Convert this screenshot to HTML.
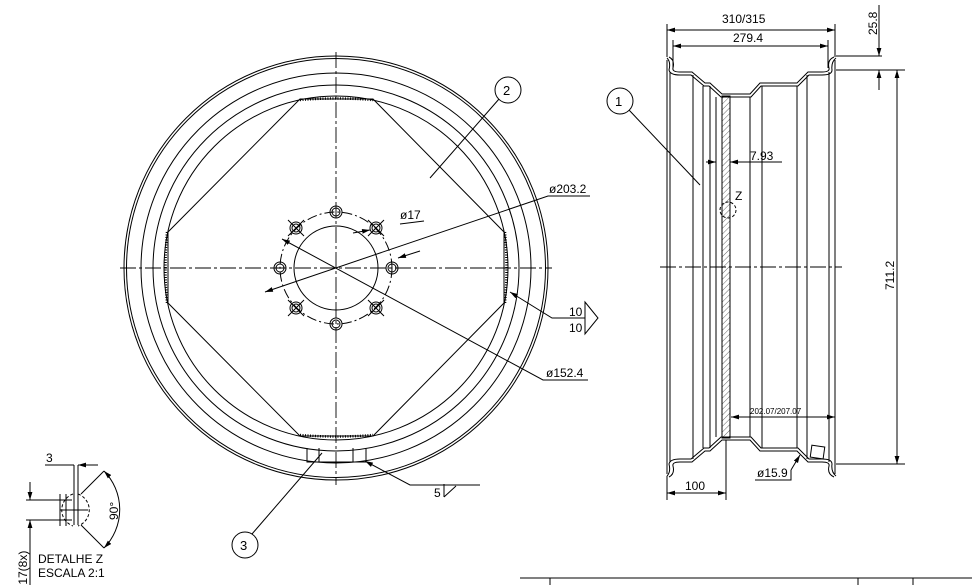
<!DOCTYPE html>
<html><head><meta charset="utf-8"><style>
html,body{margin:0;padding:0;background:#fff;}
svg{display:block;font-family:"Liberation Sans",sans-serif;}
text{fill:#000;}
</style></head><body>
<svg width="972" height="585" viewBox="0 0 972 585" xmlns="http://www.w3.org/2000/svg">
<defs>
<marker id="a" viewBox="0 0 10 6" refX="10" refY="3" markerWidth="8" markerHeight="5" orient="auto-start-reverse"><path d="M0,0 L10,3 L0,6z" fill="#000"/></marker>
<pattern id="h" width="4" height="4" patternUnits="userSpaceOnUse" patternTransform="rotate(45)"><line x1="0" y1="0" x2="0" y2="4" stroke="#000" stroke-width="0.6"/></pattern>
</defs>
<g fill="none" stroke="#000" stroke-width="1">
<circle cx="336" cy="268" r="212"/>
<circle cx="336" cy="268" r="209.5"/>
<circle cx="336" cy="268" r="195"/>
<circle cx="336" cy="268" r="183"/>
<circle cx="336" cy="268" r="172"/>
<path d="M300,99 L373,99 L504,232 L504,303 L373,436 L300,436 L168,303 L168,232 Z"/>
<path d="M300,100 Q336,97 373,100 M505,232 Q508,268 505,303 M300,435 Q336,438 373,435 M167,232 Q164,268 167,303" stroke-dasharray="1 1.5" stroke-width="2.5"/>
<circle cx="336" cy="268" r="42"/>
<circle cx="336" cy="268" r="56" stroke-dasharray="10 3 2 3"/>
<g>
<circle cx="336" cy="212" r="6"/><circle cx="336" cy="212" r="4"/>
<circle cx="336" cy="324" r="6"/><circle cx="336" cy="324" r="4"/>
<circle cx="280" cy="268" r="6"/><circle cx="280" cy="268" r="4"/>
<circle cx="392" cy="268" r="6"/><circle cx="392" cy="268" r="4"/>
<circle cx="296" cy="228" r="6"/><circle cx="296" cy="228" r="4"/>
<circle cx="376" cy="228" r="6"/><circle cx="376" cy="228" r="4"/>
<circle cx="296" cy="308" r="6"/><circle cx="296" cy="308" r="4"/>
<circle cx="376" cy="308" r="6"/><circle cx="376" cy="308" r="4"/>
<path d="M288,220 L304,236 M304,220 L288,236 M368,220 L384,236 M384,220 L368,236 M288,300 L304,316 M304,300 L288,316 M368,300 L384,316 M384,300 L368,316"/>
</g>
<path d="M120,268 L552,268 M336,52 L336,485" stroke-dasharray="16 3 3 3" stroke-width="0.9"/>
<path d="M307,448 L307,462 L366,462 L366,448 M319,448 L319,462 M353,448 L353,462"/>
<circle cx="508" cy="90" r="13"/>
<line x1="499" y1="99" x2="430" y2="178"/>
<circle cx="620" cy="101" r="13"/>
<line x1="629" y1="110" x2="700" y2="185"/>
<circle cx="245" cy="545" r="13"/>
<line x1="252" y1="534" x2="322" y2="453"/>
<path d="M265,292 L548,196 L590,196" marker-start="url(#a)"/>
<line x1="424" y1="221" x2="400" y2="224"/>
<path d="M353,233 L370,230" marker-end="url(#a)"/>
<line x1="420" y1="251" x2="398" y2="258" marker-end="url(#a)"/>
<path d="M282,239 L543,380 L588,380" marker-start="url(#a)"/>
<path d="M510,292 L552,318 L585,318" marker-start="url(#a)"/>
<path d="M585,302 L598,318 L585,334 Z" />
<path d="M365,461 L410,485 L480,485" marker-start="url(#a)"/>
<path d="M444,497 L444,484 M444,497 L456,486"/>
<path d="M669,57 Q675,60 673,68 Q672,72 680,72 L692,72 L705,83 L710,83 L722,94 L750,94 L760,83 L797,83 L808,72 L822,72 Q830,72 829,68 Q827,60 834,57"/>
<path d="M667,58 Q671,62 669,70 Q670,75 680,75 L691,75 L704,86 L709,86 L721,97 L751,97 L761,86 L798,86 L809,75 L822,75 Q832,75 832,70 Q831,62 836,58"/>
<path d="M669,477 Q675,474 673,466 Q672,462 680,462 L692,462 L705,451 L710,451 L722,440 L750,440 L760,451 L797,451 L808,462 L822,462 Q830,462 829,466 Q827,474 834,477"/>
<path d="M667,476 Q671,472 669,464 Q670,459 680,459 L691,459 L704,448 L709,448 L721,437 L751,437 L761,448 L798,448 L809,459 L822,459 Q832,459 832,464 Q831,472 836,476"/>
<g>
<line x1="667" y1="60" x2="667" y2="474"/><line x1="670" y1="72" x2="670" y2="462"/>
<line x1="693" y1="75" x2="693" y2="459"/><line x1="703" y1="86" x2="703" y2="448"/>
<line x1="710" y1="86" x2="710" y2="448"/><line x1="716" y1="97" x2="716" y2="437"/>
<line x1="750" y1="97" x2="750" y2="437"/><line x1="762" y1="86" x2="762" y2="448"/>
<line x1="797" y1="86" x2="797" y2="448"/><line x1="807" y1="75" x2="807" y2="459"/>
<line x1="829" y1="72" x2="829" y2="462"/><line x1="835" y1="60" x2="835" y2="474"/>
</g>
<rect x="722" y="96" width="8" height="342" fill="url(#h)"/>
<rect x="722" y="96" width="8" height="342"/>
<circle cx="728" cy="210" r="8" stroke-dasharray="3 2"/>
<line x1="660" y1="267" x2="842" y2="267" stroke-dasharray="16 3 3 3" stroke-width="0.9"/>
<rect x="811" y="446" width="13" height="12" transform="rotate(8 817 452)"/>
<path d="M791,470 L800,455" marker-end="url(#a)"/>
<path d="M755,480 L791,480 L791,470"/>
<line x1="667" y1="57" x2="667" y2="24"/><line x1="835" y1="57" x2="835" y2="24"/>
<line x1="667" y1="30" x2="835" y2="30" marker-start="url(#a)" marker-end="url(#a)"/>
<line x1="673" y1="68" x2="673" y2="40"/><line x1="828" y1="68" x2="828" y2="40"/>
<line x1="673" y1="46" x2="828" y2="46" marker-start="url(#a)" marker-end="url(#a)"/>
<line x1="836" y1="56" x2="882" y2="56"/><line x1="836" y1="70" x2="905" y2="70"/>
<line x1="879" y1="5" x2="879" y2="56" marker-end="url(#a)"/>
<line x1="879" y1="90" x2="879" y2="70" marker-end="url(#a)"/>
<line x1="836" y1="464" x2="905" y2="464"/>
<line x1="897" y1="70" x2="897" y2="464" marker-start="url(#a)" marker-end="url(#a)"/>
<line x1="706" y1="162" x2="716" y2="162" marker-end="url(#a)"/>
<line x1="745" y1="162" x2="730" y2="162" marker-end="url(#a)"/>
<line x1="745" y1="162" x2="782" y2="162"/>
<line x1="731" y1="417" x2="835" y2="417" marker-start="url(#a)" marker-end="url(#a)"/>
<line x1="667" y1="476" x2="667" y2="500"/><line x1="726" y1="440" x2="726" y2="500"/>
<line x1="667" y1="493" x2="726" y2="493" marker-start="url(#a)" marker-end="url(#a)"/>
<line x1="45" y1="465" x2="74" y2="465"/>
<line x1="98" y1="465" x2="78" y2="465" marker-end="url(#a)"/>
<line x1="74" y1="465" x2="74" y2="525"/><line x1="78" y1="465" x2="78" y2="525"/>
<path d="M73,494 A17,17 0 0 0 73,526" stroke-dasharray="3 2"/>
<path d="M78,494 A17,17 0 0 1 78,526" stroke-dasharray="3 2"/>
<line x1="26" y1="500" x2="72" y2="500"/><line x1="26" y1="520" x2="72" y2="520"/>
<line x1="60" y1="494" x2="60" y2="526"/><line x1="66" y1="494" x2="66" y2="526"/>
<line x1="60" y1="510" x2="88" y2="510"/>
<line x1="30" y1="482" x2="30" y2="500" marker-end="url(#a)"/>
<line x1="30" y1="585" x2="30" y2="520" marker-end="url(#a)"/>
<line x1="81" y1="494" x2="104" y2="471"/><line x1="81" y1="525" x2="104" y2="548"/>
<path d="M104,471 A55,55 0 0 1 104,548" marker-start="url(#a)" marker-end="url(#a)"/>
<line x1="520" y1="578" x2="972" y2="578"/>
<line x1="858" y1="578" x2="858" y2="585"/><line x1="913" y1="578" x2="913" y2="585"/>
<line x1="550" y1="578" x2="550" y2="585"/>
</g>
<g font-size="12">
<text x="503" y="95" font-size="13">2</text>
<text x="615" y="106" font-size="13">1</text>
<text x="240" y="550" font-size="13">3</text>
<text x="549" y="193">ø203.2</text>
<text x="400" y="219">ø17</text>
<text x="546" y="377">ø152.4</text>
<text x="569" y="316">10</text>
<text x="569" y="332">10</text>
<text x="434" y="497">5</text>
<text x="722" y="23">310/315</text>
<text x="733" y="42">279.4</text>
<text x="750" y="160">7.93</text>
<text x="735" y="200">Z</text>
<text x="750" y="414" font-size="8">202.07/207.07</text>
<text x="757" y="477">ø15.9</text>
<text x="685" y="490">100</text>
<text transform="translate(877,35) rotate(-90)">25.8</text>
<text transform="translate(894,290) rotate(-90)">711.2</text>
<text x="46" y="462">3</text>
<text transform="translate(118,520) rotate(-90)">90°</text>
<text x="38" y="563">DETALHE  Z</text>
<text x="38" y="577">ESCALA  2:1</text>
<text transform="translate(27,592) rotate(-90)">ø17(8x)</text>
</g>
</svg>
</body></html>
